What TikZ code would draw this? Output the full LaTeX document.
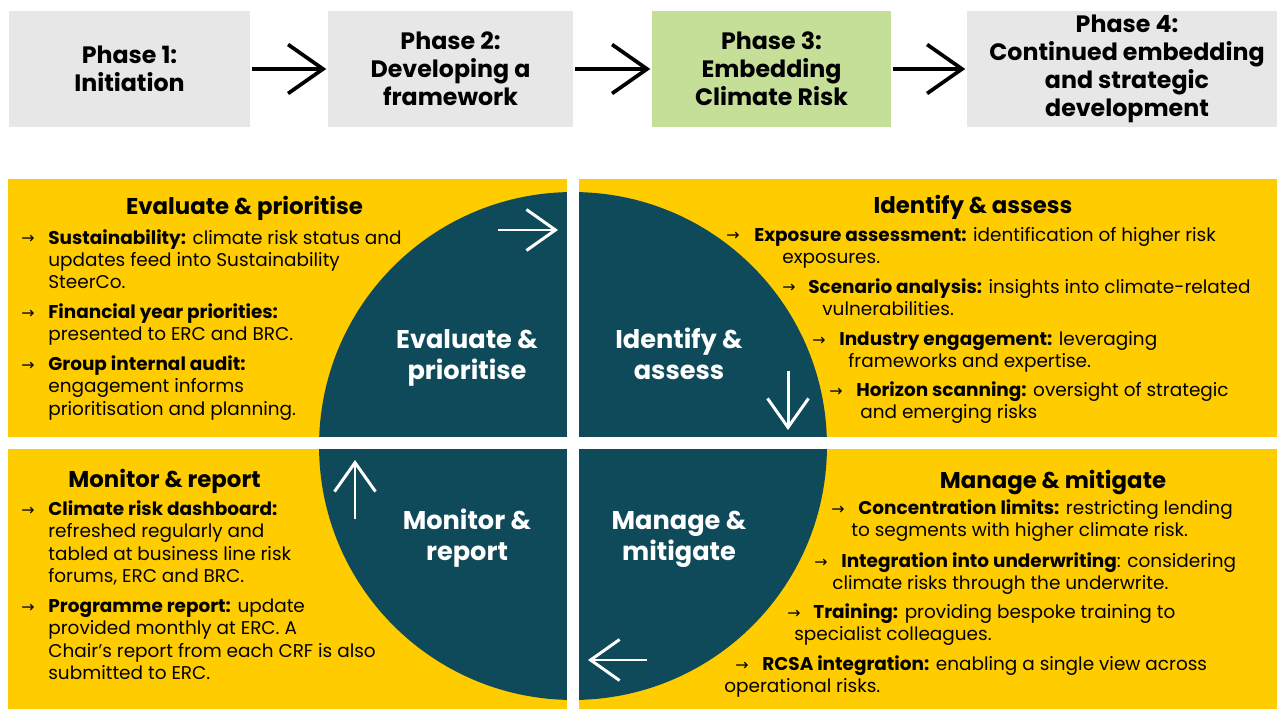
\documentclass[tikz,border=0pt]{standalone}
\usepackage{fontspec}
\setmainfont{Poppins}
\newfontfamily\arrowfont{DejaVu Sans}
\usetikzlibrary{arrows.meta}
\definecolor{phasegrey}{HTML}{E7E7E7}
\definecolor{phasegreen}{HTML}{C5DE98}
\definecolor{cyclegold}{HTML}{FFCC00}
\definecolor{cycleteal}{HTML}{0F4A5A}
\tikzset{
  phase/.style={fill=phasegrey,minimum height=2.32cm,inner sep=0pt,outer sep=0pt,
    align=center,font=\bfseries\fontsize{13.5}{15.9}\selectfont},
  phasearrow/.style={-{Straight Barb[length=0.7cm,width=0.98cm]},line width=2.1pt,
    shorten >=1pt,shorten <=1pt},
  cyclearrow/.style={-{Straight Barb[length=0.58cm,width=0.82cm]},white,line width=1.7pt},
  heading/.style={anchor=base,inner sep=0pt,font=\bfseries\fontsize{13}{15}\selectfont},
  % multi-line nodes sit on the baseline of their last line
  point/.style={anchor=base west,inner sep=0pt,align=left,
    font=\fontsize{10.5}{12.8}\selectfont},
  tick/.style={anchor=base west,inner sep=0pt,font=\arrowfont\fontsize{9}{10}\selectfont},
  stage/.style={anchor=base,inner sep=0pt,text=white,align=center,
    font=\bfseries\fontsize{14.6}{17.6}\selectfont}
}

\begin{document}
\begin{tikzpicture}[x=0.02cm,y=-0.02cm]
\useasboundingbox (0,0) rectangle (1277,709);

% phases along the top
\node[phase,minimum width=4.82cm] (p1) at (129.5,69) {Phase 1:\\Initiation};
\node[phase,minimum width=4.9cm] (p2) at (450.5,69) {Phase 2:\\Developing a\\framework};
\node[phase,minimum width=4.78cm,fill=phasegreen] (p3) at (771.5,69) {Phase 3:\\Embedding\\Climate Risk};
\node[phase,minimum width=6.4cm] (p4) at (1127,69) {\rule{0pt}{9pt}Phase 4:\\Continued embedding\\and strategic\\development};
\draw[phasearrow] (p1) -- (p2);
\draw[phasearrow] (p2) -- (p3);
\draw[phasearrow] (p3) -- (p4);

% quadrants and the cycle
\fill[cyclegold] (8,179) rectangle (1277,709);
\fill[cycleteal] (573,446) circle (5.08cm);
\fill[white] (567,179) rectangle (579,709);
\fill[white] (0,437) rectangle (1277,449);

\node[stage] (evl) at (467,379) {Evaluate \&\\prioritise};
\node[stage] (idl) at (679,379) {Identify \&\\assess};
\node[stage] (mol) at (467,560) {Monitor \&\\report};
\node[stage] (mal) at (679,560) {Manage \&\\mitigate};

\coordinate (eTail) at (498,230);
\coordinate (eTip) at (558,230);
\coordinate (iTail) at (788,371);
\coordinate (iTip) at (788,430);
\coordinate (mTail) at (647,660);
\coordinate (mTip) at (588,660);
\coordinate (rTail) at (355,519);
\coordinate (rTip) at (355,460);
\draw[cyclearrow] (eTail) -- (eTip);
\draw[cyclearrow] (iTail) -- (iTip);
\draw[cyclearrow] (mTail) -- (mTip);
\draw[cyclearrow] (rTail) -- (rTip);

% evaluate & prioritise
\node[heading] (evh) at (244.5,215) {Evaluate \& prioritise};
\node[tick] (eva) at (21,244) {→};
\node[point] (ev1) at (48,289) {\textbf{Sustainability:} climate risk status and\\updates feed into Sustainability\\SteerCo.};
\node[tick] (evb) at (21,318) {→};
\node[point] (ev2) at (48,340.5) {\textbf{Financial year priorities:}\\presented to ERC and BRC.};
\node[tick] (evc) at (21,370) {→};
\node[point] (ev3) at (48,415) {\textbf{Group internal audit:}\\engagement informs\\prioritisation and planning.};

% identify & assess
\node[heading] (idh) at (973,214) {Identify \& assess};
\node[tick] (ida) at (726,241) {→};
\node[point] (id1) at (754,263.5) {\textbf{Exposure assessment:} identification of higher risk\\\hspace*{0.56cm}exposures.};
\node[tick] (idb) at (782,293) {→};
\node[point] (id2) at (808,315.5) {\textbf{Scenario analysis:} insights into climate-related\\\hspace*{0.28cm}vulnerabilities.};
\node[tick] (idc) at (812,345) {→};
\node[point] (id3) at (839,367.5) {\textbf{Industry engagement:} leveraging\\\hspace*{0.18cm}frameworks and expertise.};
\node[tick] (idd) at (829,396) {→};
\node[point] (id4) at (856,418.5) {\textbf{Horizon scanning:} oversight of strategic\\\hspace*{0.08cm}and emerging risks};

% monitor & report
\node[heading] (moh) at (164.5,487) {Monitor \& report};
\node[tick] (moa) at (21,515) {→};
\node[point] (mo1) at (48,582.5) {\textbf{Climate risk dashboard:}\\refreshed regularly and\\tabled at business line risk\\forums, ERC and BRC.};
\node[tick] (mob) at (21,612) {→};
\node[point] (mo2) at (48,679.5) {\textbf{Programme report:} update\\provided monthly at ERC. A\\Chair’s report from each CRF is also\\submitted to ERC.};

% manage & mitigate
\node[heading] (mah) at (1053,488) {Manage \& mitigate};
\node[tick] (maa) at (831,514) {→};
\node[point] (ma1) at (858,536.5) {\textbf{Concentration limits:} restricting lending\\\hspace*{-0.14cm}to segments with higher climate risk.};
\node[tick] (mab) at (814,567) {→};
\node[point] (ma2) at (841,589.5) {\textbf{Integration into underwriting}: considering\\\hspace*{-0.18cm}climate risks through the underwrite.};
\node[tick] (mac) at (787,618) {→};
\node[point] (ma3) at (813,640.5) {\textbf{Training:} providing bespoke training to\\\hspace*{-0.38cm}specialist colleagues.};
\node[tick] (mad) at (735,670) {→};
\node[point] (ma4) at (762,692.5) {\textbf{RCSA integration:} enabling a single view across\\\hspace*{-0.76cm}operational risks.};
\end{tikzpicture}
\end{document}
